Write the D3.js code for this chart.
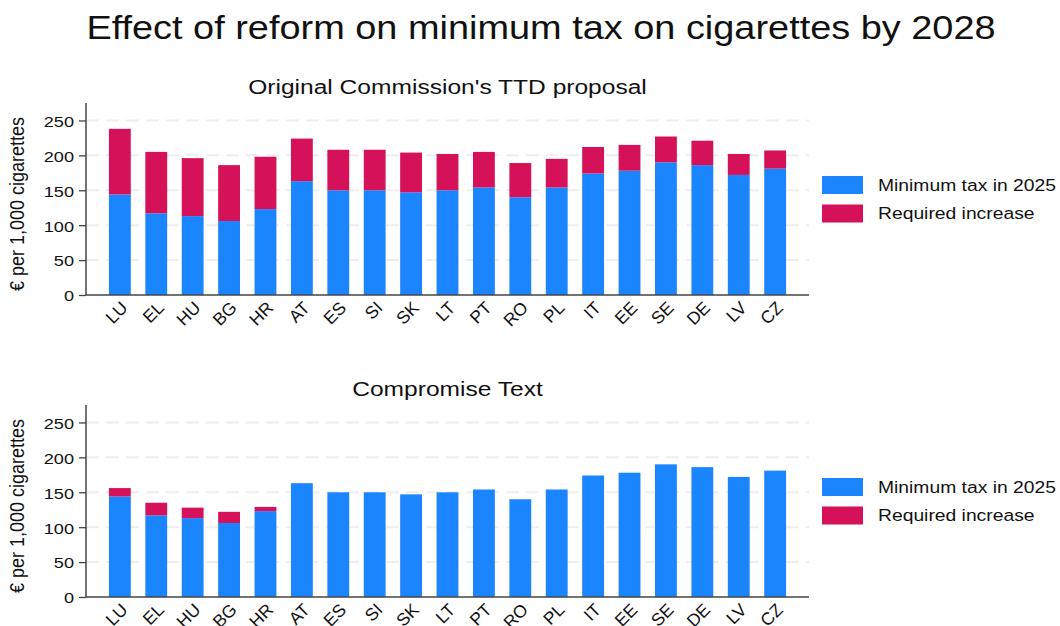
<!DOCTYPE html>
<html>
<head>
<meta charset="utf-8">
<script src="https://cdn.jsdelivr.net/npm/d3@7"></script>
<style>
  body { margin: 0; background: #fff; }
  text { font-family: "Liberation Sans", Arial, sans-serif; fill: #111; }
</style>
</head>
<body>
<div id="chart"></div>
<script>
// data
const countries = ["LU", "EL", "HU", "BG", "HR", "AT", "ES", "SI", "SK", "LT",
                   "PT", "RO", "PL", "IT", "EE", "SE", "DE", "LV", "CZ"];
const minTax2025 = [144, 117, 113, 106, 123, 163, 150, 150, 147, 150,
                    154, 140, 154, 174, 178, 190, 186, 172, 181];
const increaseOriginal = [94, 88, 83, 80, 75, 61, 58, 58, 57, 52,
                          51, 49, 41, 38, 37, 37, 35, 30, 26];
const increaseCompromise = [12, 18, 15, 16, 6, 0, 0, 0, 0, 0,
                            0, 0, 0, 0, 0, 0, 0, 0, 0];
const yTicks = [0, 50, 100, 150, 200, 250];
const seriesNames = ["Minimum tax in 2025", "Required increase"];
const panelTitles = ["Original Commission's TTD proposal", "Compromise Text"];

const colors = ["#1a85ff", "#d41159"];
const W = 1060, H = 626;
const sx = 1.17; // the original is a bit stretched sideways

const svg = d3.select("#chart").append("svg")
    .attr("width", W)
    .attr("height", H);

svg.append("text")
    .attr("transform", `translate(541,39) scale(${sx},1)`)
    .attr("text-anchor", "middle")
    .attr("font-size", "32.4px")
    .text("Effect of reform on minimum tax on cigarettes by 2028");

const left = 86, right = 809;
const panels = [
    { top: 103, bottom: 295, inc: increaseOriginal, title: panelTitles[0] },
    { top: 405, bottom: 597, inc: increaseCompromise, title: panelTitles[1] }
];

const x = d3.scaleBand()
    .domain(countries)
    .range([left, right])
    .paddingInner(0.4)
    .paddingOuter(0.63);

panels.forEach(function (p) {
    const g = svg.append("g");
    const y = d3.scaleLinear().domain([0, 275]).range([p.bottom, p.top]);

    // dashed grid
    g.selectAll(".grid")
        .data(yTicks.slice(1))
        .enter().append("line")
        .attr("x1", left).attr("x2", right)
        .attr("y1", d => y(d)).attr("y2", d => y(d))
        .attr("stroke", "#eeeeee")
        .attr("stroke-width", 2)
        .attr("stroke-dasharray", "13,7");

    const rows = countries.map((c, i) => ({ country: c, base: minTax2025[i], inc: p.inc[i] }));
    const stacked = d3.stack().keys(["base", "inc"])(rows);

    g.selectAll(".series")
        .data(stacked)
        .enter().append("g")
        .attr("fill", (d, i) => colors[i])
        .selectAll("rect")
        .data(d => d)
        .enter().append("rect")
        .attr("x", d => x(d.data.country))
        .attr("width", x.bandwidth())
        .attr("y", d => y(d[1]))
        .attr("height", d => y(d[0]) - y(d[1]));

    // y axis
    const yAxis = g.append("g")
        .attr("transform", `translate(${left},0)`)
        .call(d3.axisLeft(y).tickValues(yTicks).tickSize(7));
    yAxis.select(".domain").remove();
    yAxis.selectAll("line").attr("stroke", "#444").attr("stroke-width", 1.3);
    yAxis.selectAll("text")
        .attr("x", 0)
        .attr("dy", "0.38em")
        .attr("transform", `translate(-12,0) scale(${sx},1)`)
        .attr("font-size", "15.5px")
        .attr("fill", "#111")
        .style("font-family", "'Liberation Sans', Arial, sans-serif");
    g.append("line")
        .attr("x1", left).attr("x2", left)
        .attr("y1", p.top).attr("y2", p.bottom)
        .attr("stroke", "#444").attr("stroke-width", 1.5);

    // x axis
    g.append("line")
        .attr("x1", left).attr("x2", right)
        .attr("y1", p.bottom).attr("y2", p.bottom)
        .attr("stroke", "#444").attr("stroke-width", 1.5);
    g.selectAll(".xlab")
        .data(countries)
        .enter().append("text")
        .attr("transform", d => `translate(${x(d) + x.bandwidth() / 2},${p.bottom + 5}) rotate(-45)`)
        .attr("text-anchor", "end")
        .attr("dy", "0.72em")
        .attr("font-size", "17.5px")
        .text(d => d);

    g.append("text")
        .attr("transform", `translate(${(left + right) / 2},${p.top - 9}) scale(${sx},1)`)
        .attr("text-anchor", "middle")
        .attr("font-size", "21px")
        .text(p.title);

    g.append("text")
        .attr("transform", `translate(24,${(p.top + p.bottom) / 2 + 5}) scale(${sx},1) rotate(-90)`)
        .attr("text-anchor", "middle")
        .attr("font-size", "18px")
        .text("€ per 1,000 cigarettes");

    // legend
    const lg = g.append("g")
        .attr("transform", `translate(822,${(p.top + p.bottom) / 2 - 23})`);
    seriesNames.forEach(function (name, i) {
        lg.append("rect")
            .attr("x", 0).attr("y", i * 28.5)
            .attr("width", 41).attr("height", 18)
            .attr("fill", colors[i]);
        lg.append("text")
            .attr("transform", `translate(56,${i * 28.5 + 9}) scale(${sx},1)`)
            .attr("dy", "0.36em")
            .attr("font-size", "16.5px")
            .text(name);
    });
});
</script>
</body>
</html>
